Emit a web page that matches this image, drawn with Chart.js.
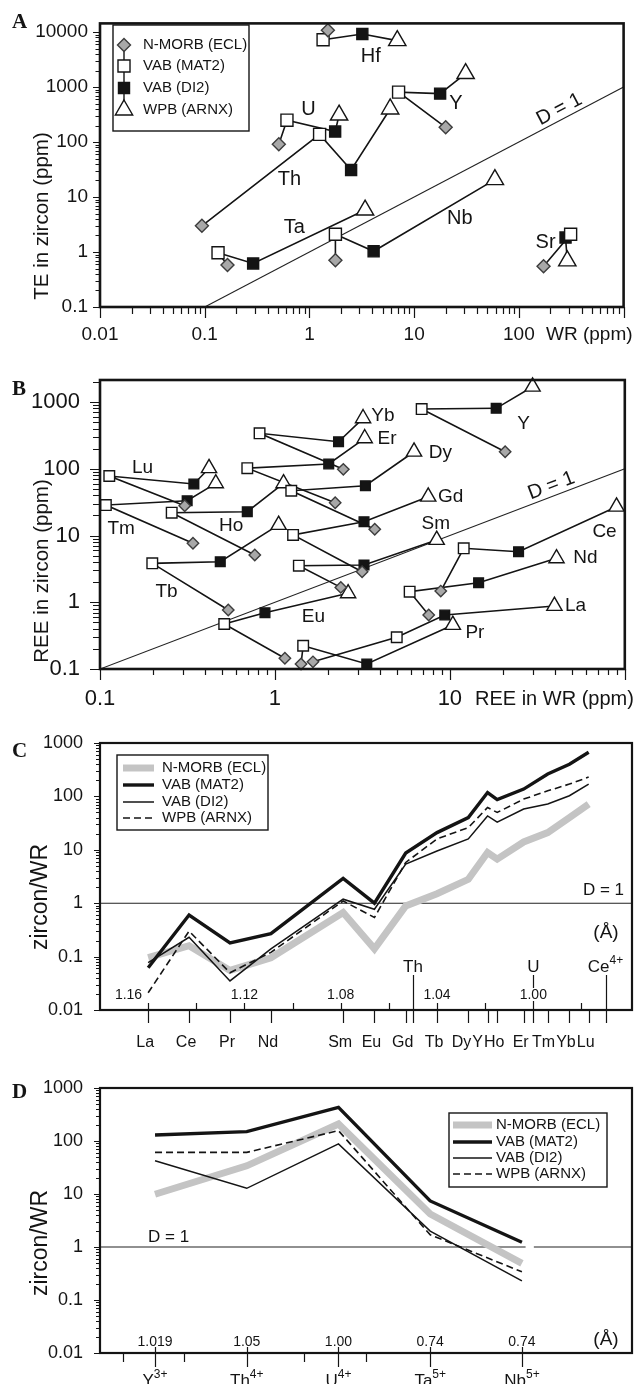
<!DOCTYPE html>
<html>
<head>
<meta charset="utf-8">
<title>Zircon / whole rock partitioning</title>
<script src="https://cdn.jsdelivr.net/npm/chart.js@4.4.1/dist/chart.umd.min.js"></script>
<style>
  body { margin: 0; background: #fff; }
  #page { position: relative; width: 635px; height: 1384px; overflow: hidden; }
  canvas { position: absolute; left: 0; }
</style>
</head>
<body>
<div id="page">
  <canvas id="chartA" width="635" height="345" style="top:0;width:635px;height:345px"></canvas>
  <canvas id="chartB" width="635" height="370" style="top:345px;width:635px;height:370px"></canvas>
  <canvas id="chartC" width="635" height="340" style="top:715px;width:635px;height:340px"></canvas>
  <canvas id="chartD" width="635" height="329" style="top:1055px;width:635px;height:329px"></canvas>
</div>
<script>
const FONT = '"Liberation Sans", Arial, Helvetica, sans-serif';
const INK = '#141414';

const seriesNames = ['N-MORB (ECL)', 'VAB (MAT2)', 'VAB (DI2)', 'WPB (ARNX)'];

// ---- panel A: trace elements, WR vs zircon (ppm) ----
const teElements = ['Hf', 'Y', 'U', 'Th', 'Ta', 'Nb', 'Sr'];
const teEclWR    = [1.5, 20, 0.51, 0.094, 0.165, 1.77, 172];
const teEclZrn   = [10800, 185, 91, 3.0, 0.58, 0.71, 0.55];
const teMat2WR   = [1.35, 7.1, 0.61, 1.25, 0.134, 1.77, 312];
const teMat2Zrn  = [7250, 810, 250, 138, 0.97, 2.1, 2.1];
const teDi2WR    = [3.2, 17.7, 1.76, 2.5, 0.29, 4.1, 279];
const teDi2Zrn   = [9200, 760, 155, 31, 0.62, 1.03, 1.83];
const teArnxWR   = [6.9, 31, 1.92, 5.9, 3.4, 59, 290];
const teArnxZrn  = [7000, 1760, 310, 400, 5.8, 20.7, 0.69];
const teLabelAt  = [[3.85, 3570], [25, 507], [0.98, 387], [0.645, 20.7], [0.718, 2.75], [27.3, 4.0], [180, 1.52]];
const aXTicks = [0.01, 0.1, 1, 10, 100];
const aYTicks = [0.1, 1, 10, 100, 1000, 10000];

// ---- panel B: REE, WR vs zircon (ppm) ----
const reeElements = ['Lu', 'Tm', 'Yb', 'Er', 'Dy', 'Ho', 'Gd', 'Sm', 'Tb', 'Eu', 'Y', 'Ce', 'Nd', 'La', 'Pr'];
const reeEclWR    = [0.305, 0.34, 2.46, 2.21, 3.72, 0.767, 3.15, 2.38, 0.541, 1.14, 20.7, 8.87, 7.57, 1.65, 1.41];
const reeEclZrn   = [27.9, 7.64, 98, 31, 12.4, 5.1, 2.87, 1.67, 0.766, 0.145, 180, 1.47, 0.644, 0.128, 0.119];
const reeMat2WR   = [0.113, 0.108, 0.817, 0.695, 1.24, 0.257, 1.27, 1.37, 0.199, 0.513, 6.9, 12.0, 5.89, 4.97, 1.45];
const reeMat2Zrn  = [77.9, 28.6, 340, 102, 46.9, 22, 10.2, 3.53, 3.83, 0.472, 785, 6.43, 1.44, 0.299, 0.223];
const reeDi2WR    = [0.344, 0.315, 2.31, 2.03, 3.29, 0.695, 3.23, 3.23, 0.487, 0.877, 18.4, 24.7, 14.6, 9.35, 3.35];
const reeDi2Zrn   = [59.1, 33.2, 254, 118, 55.7, 22.7, 16.1, 3.61, 4.05, 0.697, 805, 5.72, 1.96, 0.644, 0.119];
const reeArnxWR   = [0.42, 0.459, 3.19, 3.26, 6.24, 1.12, 7.52, 8.41, 1.05, 2.62, 29.7, 89.7, 40.7, 39.6, 10.4];
const reeArnxZrn  = [102, 60.5, 570, 286, 180, 60.5, 38.1, 8.57, 14.4, 1.36, 1695, 27, 4.55, 0.88, 0.456];
const reeLabelAt  = [[0.175, 102.6], [0.132, 12.5], [4.14, 621], [4.37, 277], [8.83, 175], [0.562, 14.1],
                     [10.1, 38.1], [8.3, 15.2], [0.24, 1.42], [1.66, 0.61], [26.4, 480], [76.6, 11.4],
                     [59.6, 4.68], [52.3, 0.89], [13.9, 0.352]];
const bXTicks = [0.1, 1, 10];
const bYTicks = [0.1, 1, 10, 100, 1000];

// ---- panel C: zircon/WR vs ionic radius (REE + Y) ----
const cElements = ['La', 'Ce', 'Pr', 'Nd', 'Sm', 'Eu', 'Gd', 'Tb', 'Dy', 'Y', 'Ho', 'Er', 'Tm', 'Yb', 'Lu'];
const cRadius   = [1.160, 1.143, 1.126, 1.109, 1.079, 1.066, 1.053, 1.040, 1.027, 1.019, 1.015, 1.004, 0.994, 0.985, 0.977];
const cEcl  = [0.096, 0.16, 0.055, 0.095, 0.67, 0.14, 0.89, 1.5, 2.8, 8.9, 6.7, 14, 21, 40, 72];
const cMat2 = [0.062, 0.6, 0.18, 0.27, 2.9, 1.0, 8.7, 21, 40, 118, 87, 137, 263, 400, 670];
const cDi2  = [0.077, 0.23, 0.035, 0.14, 1.19, 0.77, 5.4, 9.5, 16, 43, 33, 58, 72, 103, 170];
const cArnx = [0.021, 0.3, 0.05, 0.12, 1.1, 0.54, 5.8, 16, 26, 62, 50, 89, 127, 170, 230];
const cOtherIons   = ['Th', 'U', 'Ce'];
const cOtherCharge = ['', '', '4+'];
const cOtherRadius = [1.05, 1.00, 0.97];
const cRadiusTicks  = [1.16, 1.14, 1.12, 1.10, 1.08, 1.06, 1.04, 1.02, 1.00, 0.98];
const cRadiusLabels = [1.16, 1.12, 1.08, 1.04, 1.00];

// ---- panel D: zircon/WR for Y, Th, U, Ta, Nb ----
const dIons   = ['Y', 'Th', 'U', 'Ta', 'Nb'];
const dCharge = ['3+', '4+', '4+', '5+', '5+'];
const dRadius = ['1.019', '1.05', '1.00', '0.74', '0.74'];
const dEcl  = [9.9, 34, 209, 4.2, 0.49];
const dMat2 = [130, 150, 432, 7.4, 1.23];
const dDi2  = [42.5, 12.8, 88, 2.0, 0.23];
const dArnx = [61, 61, 157, 1.7, 0.34];
const dMinorTicks = [-0.35, 0.32, 1.62, 2.3];
const cdYTicks = [0.01, 0.1, 1, 10, 100, 1000];

// ---- styles ----
const marks = [
  { pointStyle: 'rectRot', r: 6.5, fill: '#a8a8a8', edge: '#3c3c3c' },
  { pointStyle: 'rect', r: 8.5, fill: '#ffffff', edge: INK },
  { pointStyle: 'rect', r: 7.8, fill: INK, edge: INK },
  { pointStyle: 'triangle', r: 10, fill: '#ffffff', edge: INK }
];
const lineStyles = [
  { color: '#c4c4c4', width: 7, dash: [] },
  { color: INK, width: 3.4, dash: [] },
  { color: INK, width: 1.5, dash: [] },
  { color: INK, width: 1.6, dash: [7, 4] }
];

const font = (px, bold) => (bold ? 'bold ' : '') + px + 'px ' + FONT;
const fmt = v => v >= 1 ? String(Math.round(v)) : String(parseFloat(v.toPrecision(2)));

function logYAxis(min, max, ticks, px, pad, width) {
  return {
    type: 'logarithmic', min, max,
    afterBuildTicks: s => { s.ticks = ticks.map(v => ({ value: v })); },
    ticks: { callback: v => fmt(v), font: { family: FONT, size: px }, color: INK, padding: pad, autoSkip: false, maxRotation: 0 },
    grid: { display: false, drawTicks: false },
    border: { display: false },
    afterFit: s => { s.width = width; }
  };
}

function logTicksY(ctx, s, x0, maj, min) {
  ctx.beginPath();
  for (let e = Math.floor(Math.log10(s.min)); e <= Math.ceil(Math.log10(s.max)); e++) {
    for (let m = 1; m < 10; m++) {
      const v = m * Math.pow(10, e);
      if (v < s.min * 0.999 || v > s.max * 1.001) continue;
      const py = Math.round(s.getPixelForValue(v)) + 0.5;
      ctx.moveTo(x0 - (m === 1 ? maj : min), py);
      ctx.lineTo(x0, py);
    }
  }
  ctx.stroke();
}

function logTicksX(ctx, s, y0, maj, min) {
  ctx.beginPath();
  for (let e = Math.floor(Math.log10(s.min)); e <= Math.ceil(Math.log10(s.max)); e++) {
    for (let m = 1; m < 10; m++) {
      const v = m * Math.pow(10, e);
      if (v < s.min * 0.999 || v > s.max * 1.001) continue;
      const px = Math.round(s.getPixelForValue(v)) + 0.5;
      ctx.moveTo(px, y0);
      ctx.lineTo(px, y0 + (m === 1 ? maj : min));
    }
  }
  ctx.stroke();
}

function drawFrame(ctx, a, w) {
  ctx.lineWidth = w;
  ctx.strokeStyle = INK;
  ctx.strokeRect(a.left, a.top, a.right - a.left, a.bottom - a.top);
}

function drawMark(ctx, s, cx, cy, k) {
  const m = marks[s];
  const r = m.r * k;
  ctx.beginPath();
  if (m.pointStyle === 'rectRot') {
    ctx.moveTo(cx, cy - r); ctx.lineTo(cx + r, cy); ctx.lineTo(cx, cy + r); ctx.lineTo(cx - r, cy);
  } else if (m.pointStyle === 'rect') {
    const h = r * Math.SQRT1_2;
    ctx.rect(cx - h, cy - h, 2 * h, 2 * h);
  } else {
    ctx.moveTo(cx, cy - r);
    ctx.lineTo(cx + r * 0.866, cy + r * 0.5);
    ctx.lineTo(cx - r * 0.866, cy + r * 0.5);
  }
  ctx.closePath();
  ctx.fillStyle = m.fill;
  ctx.fill();
  ctx.lineWidth = 1.4;
  ctx.strokeStyle = m.edge;
  ctx.stroke();
}

function lineLegend(ctx, box, rows, x1, x2, tx) {
  ctx.lineWidth = 1.4;
  ctx.strokeStyle = INK;
  ctx.strokeRect(box[0], box[1], box[2], box[3]);
  ctx.font = font(15);
  ctx.textAlign = 'left';
  ctx.textBaseline = 'middle';
  rows.forEach((ry, s) => {
    const st = lineStyles[s];
    ctx.save();
    ctx.strokeStyle = st.color;
    ctx.lineWidth = st.width;
    ctx.setLineDash(st.dash);
    ctx.beginPath(); ctx.moveTo(x1, ry); ctx.lineTo(x2, ry); ctx.stroke();
    ctx.restore();
    ctx.fillStyle = INK;
    ctx.fillText(seriesNames[s], tx, ry);
  });
}

function yTitle(ctx, text, cx, cy, px) {
  ctx.save();
  ctx.translate(cx, cy);
  ctx.rotate(-Math.PI / 2);
  ctx.font = font(px);
  ctx.fillStyle = INK;
  ctx.textAlign = 'center';
  ctx.textBaseline = 'middle';
  ctx.fillText(text, 0, 0);
  ctx.restore();
}

function panelLetter(ctx, letter, x, y) {
  ctx.font = 'bold 21px "Liberation Serif", "Times New Roman", serif';
  ctx.fillStyle = INK;
  ctx.textAlign = 'left';
  ctx.textBaseline = 'alphabetic';
  ctx.fillText(letter, x, y);
}

function diagLabel(ctx, x, y, at, lo, hi, px) {
  const ang = Math.atan2(y.getPixelForValue(hi) - y.getPixelForValue(lo), x.getPixelForValue(hi) - x.getPixelForValue(lo));
  ctx.save();
  ctx.translate(x.getPixelForValue(at[0]), y.getPixelForValue(at[1]));
  ctx.rotate(ang);
  ctx.font = font(px);
  ctx.fillStyle = INK;
  ctx.textAlign = 'center';
  ctx.textBaseline = 'middle';
  ctx.fillText('D = 1', 0, 0);
  ctx.restore();
}

function supText(ctx, base, sup, cx, baseY, bpx, spx) {
  ctx.font = font(bpx);
  const w1 = ctx.measureText(base).width;
  ctx.font = font(spx);
  const w2 = sup ? ctx.measureText(sup).width : 0;
  const left = cx - (w1 + w2) / 2;
  ctx.textAlign = 'left';
  ctx.textBaseline = 'alphabetic';
  ctx.font = font(bpx);
  ctx.fillText(base, left, baseY);
  if (sup) {
    ctx.font = font(spx);
    ctx.fillText(sup, left + w1, baseY - bpx * 0.5);
  }
}

// scatter points (one dataset per series) and per-element connecting lines
function pointSets(xs, ys, k) {
  return xs.map((xArr, s) => ({
    order: 0, clip: false, showLine: false,
    data: xArr.map((v, i) => ({ x: v, y: ys[s][i] })),
    pointStyle: marks[s].pointStyle,
    pointRadius: marks[s].r * k,
    pointHoverRadius: marks[s].r * k,
    pointBackgroundColor: marks[s].fill,
    pointBorderColor: marks[s].edge,
    pointBorderWidth: 1.4
  }));
}
function chainSets(xs, ys, n) {
  const out = [];
  for (let i = 0; i < n; i++) {
    out.push({
      order: 1, showLine: true, pointRadius: 0, borderColor: INK, borderWidth: 1.6,
      data: xs.map((xArr, s) => ({ x: xArr[i], y: ys[s][i] }))
    });
  }
  return out;
}
function seriesLines(xVals, seriesArr) {
  return seriesArr.map((vals, s) => ({
    order: [3, 0, 1, 2][s], showLine: true, pointRadius: 0,
    borderColor: lineStyles[s].color, borderWidth: lineStyles[s].width,
    borderDash: lineStyles[s].dash, borderJoinStyle: 'miter',
    data: vals.map((v, i) => ({ x: xVals[i], y: v }))
  }));
}
const oneLine = data => ({ order: 5, showLine: true, pointRadius: 0, borderColor: '#222', borderWidth: 1.1, data });

const baseOpts = (pad, xScale, yScale) => ({
  responsive: false, animation: false, devicePixelRatio: 1,
  layout: { padding: pad },
  plugins: { legend: { display: false }, tooltip: { enabled: false } },
  events: [],
  scales: { x: xScale, y: yScale }
});

// ================= A =================
const aX = [teEclWR, teMat2WR, teDi2WR, teArnxWR];
const aY = [teEclZrn, teMat2Zrn, teDi2Zrn, teArnxZrn];
new Chart(document.getElementById('chartA'), {
  type: 'scatter',
  data: { datasets: [...pointSets(aX, aY, 1), ...chainSets(aX, aY, teElements.length),
    oneLine([{ x: 0.1, y: 0.1 }, { x: 1000, y: 1000 }])] },
  options: baseOpts({ top: 13, right: 3, left: 0, bottom: 38 },
    { type: 'logarithmic', min: 0.01, max: 1000, display: false },
    logYAxis(0.1, 14390, aYTicks, 19, 12, 100)),
  plugins: [{
    id: 'decoA',
    afterDraw(chart) {
      const { ctx, chartArea: a, scales: { x, y } } = chart;
      ctx.save();
      ctx.strokeStyle = INK; ctx.lineWidth = 1.2;
      logTicksY(ctx, y, a.left, 7, 4.5);
      logTicksX(ctx, x, a.bottom, 11, 7);
      drawFrame(ctx, a, 2.6);
      ctx.fillStyle = INK; ctx.font = font(19); ctx.textAlign = 'center'; ctx.textBaseline = 'alphabetic';
      aXTicks.forEach(v => ctx.fillText(fmt(v), x.getPixelForValue(v), a.bottom + 33));
      ctx.textAlign = 'left';
      ctx.fillText('WR (ppm)', 546, a.bottom + 33);
      ctx.font = font(20); ctx.textAlign = 'center'; ctx.textBaseline = 'middle';
      teElements.forEach((el, i) => ctx.fillText(el, x.getPixelForValue(teLabelAt[i][0]), y.getPixelForValue(teLabelAt[i][1])));
      diagLabel(ctx, x, y, [243, 394], 0.1, 1000, 20);
      // legend
      ctx.fillStyle = '#fff'; ctx.fillRect(113, 25, 136, 106);
      ctx.lineWidth = 1.4; ctx.strokeStyle = INK; ctx.strokeRect(113, 25, 136, 106);
      const rows = [45, 66, 88, 110];
      ctx.beginPath(); ctx.moveTo(124, rows[0]); ctx.lineTo(124, rows[3]); ctx.stroke();
      rows.forEach((ry, s) => {
        drawMark(ctx, s, 124, ry, 1);
        ctx.fillStyle = INK; ctx.font = font(15); ctx.textAlign = 'left'; ctx.textBaseline = 'middle';
        ctx.fillText(seriesNames[s], 143, ry);
      });
      yTitle(ctx, 'TE in zircon (ppm)', 42, 216, 20.5);
      panelLetter(ctx, 'A', 12, 28);
      ctx.restore();
    }
  }]
});

// ================= B =================
const bX = [reeEclWR, reeMat2WR, reeDi2WR, reeArnxWR];
const bY = [reeEclZrn, reeMat2Zrn, reeDi2Zrn, reeArnxZrn];
new Chart(document.getElementById('chartB'), {
  type: 'scatter',
  data: { datasets: [...pointSets(bX, bY, 0.88), ...chainSets(bX, bY, reeElements.length),
    oneLine([{ x: 0.1, y: 0.1 }, { x: 100, y: 100 }])] },
  options: baseOpts({ top: 35, right: 3, left: 0, bottom: 46 },
    { type: 'logarithmic', min: 0.1, max: 100, display: false },
    logYAxis(0.1, 2138, bYTicks, 22, 20, 100)),
  plugins: [{
    id: 'decoB',
    afterDraw(chart) {
      const { ctx, chartArea: a, scales: { x, y } } = chart;
      ctx.save();
      ctx.strokeStyle = INK; ctx.lineWidth = 1.2;
      logTicksY(ctx, y, a.left, 10, 7);
      logTicksX(ctx, x, a.bottom, 11, 6);
      drawFrame(ctx, a, 2.6);
      ctx.fillStyle = INK; ctx.font = font(22); ctx.textAlign = 'center'; ctx.textBaseline = 'alphabetic';
      bXTicks.forEach(v => ctx.fillText(fmt(v), x.getPixelForValue(v), a.bottom + 36));
      ctx.font = font(20); ctx.textAlign = 'left';
      ctx.fillText('REE in WR (ppm)', 475, a.bottom + 36);
      ctx.font = font(19); ctx.textAlign = 'center'; ctx.textBaseline = 'middle';
      reeElements.forEach((el, i) => ctx.fillText(el, x.getPixelForValue(reeLabelAt[i][0]), y.getPixelForValue(reeLabelAt[i][1])));
      diagLabel(ctx, x, y, [38, 55.6], 0.1, 100, 20);
      yTitle(ctx, 'REE in zircon (ppm)', 42, 226, 20.5);
      panelLetter(ctx, 'B', 12, 50);
      ctx.restore();
    }
  }]
});

// ================= C =================
new Chart(document.getElementById('chartC'), {
  type: 'scatter',
  data: { datasets: [...seriesLines(cRadius, [cEcl, cMat2, cDi2, cArnx]),
    oneLine([{ x: 1.18, y: 1 }, { x: 0.959, y: 1 }])] },
  options: baseOpts({ top: 28, right: 3, left: 0, bottom: 45 },
    { type: 'linear', min: 0.959, max: 1.18, reverse: true, display: false },
    logYAxis(0.01, 1000, cdYTicks, 18, 17, 100)),
  plugins: [{
    id: 'decoC',
    afterDraw(chart) {
      const { ctx, chartArea: a, scales: { x, y } } = chart;
      ctx.save();
      ctx.strokeStyle = INK; ctx.lineWidth = 1.2;
      logTicksY(ctx, y, a.left, 6, 4);
      // radius ticks (up) and element ticks (down)
      ctx.beginPath();
      cRadiusTicks.forEach(r => { const px = Math.round(x.getPixelForValue(r)) + 0.5; ctx.moveTo(px, a.bottom); ctx.lineTo(px, a.bottom - 7); });
      cRadius.forEach(r => { const px = Math.round(x.getPixelForValue(r)) + 0.5; ctx.moveTo(px, a.bottom); ctx.lineTo(px, a.bottom + 13); });
      cOtherRadius.forEach(r => { const px = Math.round(x.getPixelForValue(r)) + 0.5; ctx.moveTo(px, a.bottom - 35); ctx.lineTo(px, a.bottom + 13); });
      ctx.stroke();
      drawFrame(ctx, a, 2.2);
      // radius labels
      ctx.font = font(14); ctx.textBaseline = 'alphabetic';
      cRadiusLabels.forEach((r, i) => {
        const px = x.getPixelForValue(r);
        const txt = r.toFixed(2);
        const w = ctx.measureText(txt).width;
        const cx = i === 0 ? px - 6 - w / 2 : px;
        ctx.fillStyle = '#fff'; ctx.fillRect(cx - w / 2 - 1, a.bottom - 22, w + 2, 13);
        ctx.fillStyle = INK; ctx.textAlign = 'center';
        ctx.fillText(txt, cx, a.bottom - 11);
      });
      ctx.fillStyle = INK;
      cOtherIons.forEach((ion, i) => supText(ctx, ion, cOtherCharge[i], x.getPixelForValue(cOtherRadius[i]), a.bottom - 38, 17, 12));
      // element names, packed right to left
      ctx.font = font(16); ctx.textAlign = 'center'; ctx.textBaseline = 'alphabetic';
      let prevLeft = Infinity;
      for (let i = cElements.length - 1; i >= 0; i--) {
        const w = ctx.measureText(cElements[i]).width;
        let cx = x.getPixelForValue(cRadius[i]) - 3;
        if (cx + w / 2 > prevLeft - 1) cx = prevLeft - 1 - w / 2;
        ctx.fillText(cElements[i], cx, a.bottom + 37);
        prevLeft = cx - w / 2;
      }
      ctx.font = font(17); ctx.textAlign = 'right'; ctx.textBaseline = 'middle';
      ctx.fillText('D = 1', 624, 175);
      ctx.font = font(19); ctx.textAlign = 'center';
      ctx.fillText('(\u00C5)', 606, 218);
      ctx.fillStyle = '#fff'; ctx.fillRect(117, 40, 151, 75);
      lineLegend(ctx, [117, 40, 151, 75], [53, 70, 87, 103], 123, 154, 162);
      yTitle(ctx, 'zircon/WR', 41, 182, 23);
      panelLetter(ctx, 'C', 12, 42);
      ctx.restore();
    }
  }]
});

// ================= D =================
const dIdx = dIons.map((_, i) => i);
new Chart(document.getElementById('chartD'), {
  type: 'scatter',
  data: { datasets: [...seriesLines(dIdx, [dEcl, dMat2, dDi2, dArnx]),
    oneLine([{ x: -0.6, y: 1 }, { x: 4.04, y: 1 }, { x: 4.08, y: null }, { x: 4.13, y: 1 }, { x: 5.2, y: 1 }])] },
  options: baseOpts({ top: 33, right: 3, left: 0, bottom: 31 },
    { type: 'linear', min: -0.6, max: 5.2, display: false },
    logYAxis(0.01, 1000, cdYTicks, 18, 17, 100)),
  plugins: [{
    id: 'decoD',
    afterDraw(chart) {
      const { ctx, chartArea: a, scales: { x, y } } = chart;
      ctx.save();
      ctx.strokeStyle = INK; ctx.lineWidth = 1.2;
      logTicksY(ctx, y, a.left, 6, 4);
      ctx.beginPath();
      dIdx.forEach(i => { const px = Math.round(x.getPixelForValue(i)) + 0.5; ctx.moveTo(px, a.bottom - 6); ctx.lineTo(px, a.bottom + 14); });
      dMinorTicks.forEach(v => { const px = Math.round(x.getPixelForValue(v)) + 0.5; ctx.moveTo(px, a.bottom); ctx.lineTo(px, a.bottom + 9); });
      ctx.stroke();
      drawFrame(ctx, a, 2.2);
      ctx.fillStyle = INK; ctx.font = font(14); ctx.textAlign = 'center'; ctx.textBaseline = 'alphabetic';
      dRadius.forEach((r, i) => ctx.fillText(r, x.getPixelForValue(i), a.bottom - 7));
      dIons.forEach((ion, i) => supText(ctx, ion, dCharge[i], x.getPixelForValue(i), a.bottom + 33, 17, 12));
      ctx.font = font(19); ctx.textAlign = 'center'; ctx.textBaseline = 'middle';
      ctx.fillText('(\u00C5)', 606, 285);
      ctx.font = font(17); ctx.textAlign = 'left';
      ctx.fillText('D = 1', 148, 182);
      ctx.fillStyle = '#fff'; ctx.fillRect(449, 58, 158, 74);
      lineLegend(ctx, [449, 58, 158, 74], [70, 87, 103, 119], 453, 492, 496);
      yTitle(ctx, 'zircon/WR', 41, 188, 23);
      panelLetter(ctx, 'D', 12, 43);
      ctx.restore();
    }
  }]
});
</script>
</body>
</html>
